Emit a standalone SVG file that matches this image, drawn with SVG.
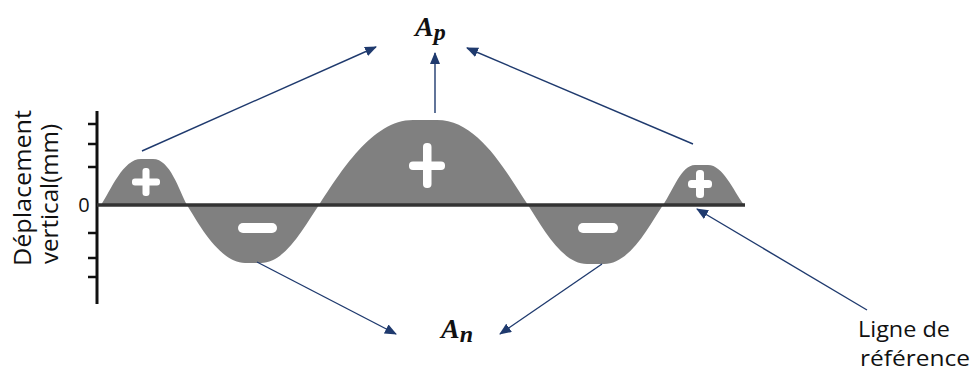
<svg xmlns="http://www.w3.org/2000/svg" width="975" height="374" viewBox="0 0 975 374">
  <style>
    .lbl { font-family: "Open Sans", "Liberation Sans", sans-serif; fill: #111; }
    .math { font-family: "Liberation Serif", "DejaVu Serif", serif; font-weight: bold; font-style: italic; fill: #111; }
    .axis { stroke: #111; stroke-width: 3; fill: none; }
    .tick { stroke: #111; stroke-width: 2.5; }
    .conn { stroke: #1f3a6e; stroke-width: 1.4; fill: none; marker-end: url(#ah); }
    .sign { fill: #fff; }
  </style>
  <defs>
    <marker id="ah" markerUnits="userSpaceOnUse" markerWidth="12" markerHeight="10" viewBox="0 0 12 10" refX="11" refY="5" orient="auto">
      <path d="M0,0 L12,5 L0,10 Z" fill="#1f3a6e"/>
    </marker>
  </defs>

  <g id="waveform">
    <path fill="#808080" d="M101,205 C111,190 123,159 141,159 L153,159 C170,159 179,190 187,205
      C198,223 220,263 245,263 L261,263 C286,263 305,225 319,205
      C340,173 372,120 413,120 L437,120 C478,120 505,170 528,205
      C543,228 562,264 587,264 L604,264 C630,264 649,226 663,205
      C673,191 681,165 695,165 L708,165 C723,165 733,190 744,205 Z"/>
    <g class="sign">
      <rect x="142.5" y="168" width="7" height="28" rx="3"/>
      <rect x="132" y="178.5" width="28" height="7" rx="3"/>
      <rect x="423" y="143" width="8.5" height="45" rx="4"/>
      <rect x="409" y="161.5" width="36" height="8.5" rx="4"/>
      <rect x="696" y="170" width="8" height="28" rx="3.5"/>
      <rect x="688" y="180" width="24" height="8" rx="3.5"/>
      <rect x="238" y="223" width="39" height="10" rx="5"/>
      <rect x="578" y="223" width="40" height="10" rx="5"/>
    </g>
  </g>

  <g id="axis">
    <line class="axis" x1="97" y1="111" x2="97" y2="304"/>
    <line class="tick" x1="88" y1="124" x2="97" y2="124"/>
    <line class="tick" x1="88" y1="144" x2="97" y2="144"/>
    <line class="tick" x1="88" y1="167" x2="97" y2="167"/>
    <line class="tick" x1="88" y1="233" x2="97" y2="233"/>
    <line class="tick" x1="88" y1="258" x2="97" y2="258"/>
    <line class="tick" x1="88" y1="277" x2="97" y2="277"/>
    <text class="lbl" x="84" y="212" font-size="20" text-anchor="middle">0</text>
    <text class="lbl" font-size="24" transform="translate(31,266) rotate(-90)" textLength="156" lengthAdjust="spacingAndGlyphs">Déplacement</text>
    <text class="lbl" font-size="24" transform="translate(58,264) rotate(-90)" textLength="140" lengthAdjust="spacingAndGlyphs">vertical(mm)</text>
  </g>

  <g id="reference-line">
    <line x1="97" y1="205" x2="745" y2="205" stroke="#333" stroke-width="3.5"/>
  </g>

  <g id="label-Ap">
    <text class="math" x="415" y="36" font-size="28">A<tspan font-size="24" dy="4">p</tspan></text>
  </g>
  <g id="label-An">
    <text class="math" x="441" y="338" font-size="28">A<tspan font-size="24" dy="4">n</tspan></text>
  </g>
  <g id="label-ref">
    <text class="lbl" x="858" y="337" font-size="21" textLength="92" lengthAdjust="spacingAndGlyphs">Ligne de</text>
    <text class="lbl" x="860" y="366" font-size="21" textLength="110" lengthAdjust="spacingAndGlyphs">référence</text>
  </g>

  <g id="connectors">
    <line class="conn" x1="142" y1="151" x2="376" y2="47"/>
    <line class="conn" x1="435" y1="113" x2="435" y2="53"/>
    <line class="conn" x1="693" y1="144" x2="467" y2="48"/>
    <line class="conn" x1="257" y1="262" x2="396" y2="334"/>
    <line class="conn" x1="602" y1="264" x2="500" y2="334"/>
    <line class="conn" x1="867" y1="310" x2="697" y2="209"/>
  </g>
</svg>
